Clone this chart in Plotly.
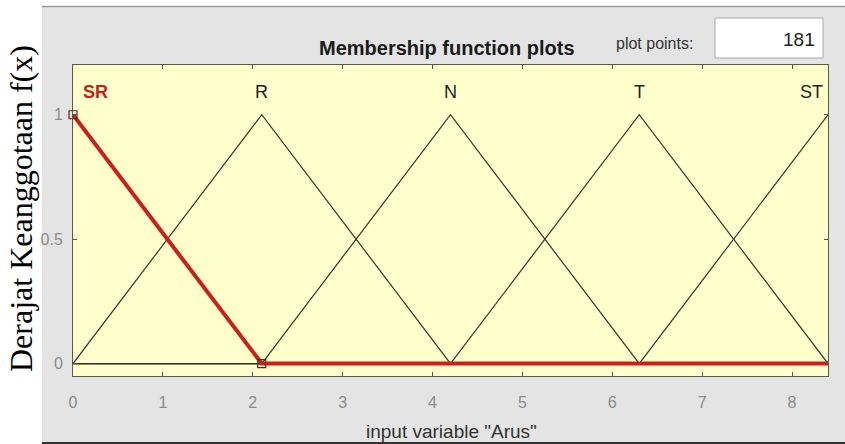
import plotly.graph_objects as go

# Membership functions of input variable "Arus" (triangular, vertices over [0, 8.4])
mf_names = ["SR", "R", "N", "T", "ST"]
sr_x = [0, 2.1, 8.4]
sr_y = [1, 0, 0]
r_x = [0, 2.1, 4.2, 8.4]
r_y = [0, 1, 0, 0]
n_x = [0, 2.1, 4.2, 6.3, 8.4]
n_y = [0, 0, 1, 0, 0]
t_x = [0, 4.2, 6.3, 8.4]
t_y = [0, 0, 1, 0]
st_x = [0, 6.3, 8.4]
st_y = [0, 0, 1]
mf_peaks = [0, 2.1, 4.2, 6.3, 8.4]

x_ticks = [0, 1, 2, 3, 4, 5, 6, 7, 8]
y_ticks = [0, 0.5, 1]
y_tick_text = ["0", "0.5", "1"]
plot_points = 181

W, H = 845, 444
L, R, T, B = 73, 828, 65, 376


def px(xp):
    return (xp - L) / (R - L)


def py(yp):
    return (B - yp) / (B - T)


fig = go.Figure()

black = "#33332a"
for xs, ys in [(r_x, r_y), (n_x, n_y), (t_x, t_y), (st_x, st_y)]:
    fig.add_trace(go.Scatter(x=xs, y=ys, mode="lines",
                             line=dict(color=black, width=1.2),
                             hoverinfo="skip", showlegend=False))

# selected membership function drawn thick in red
fig.add_trace(go.Scatter(x=sr_x, y=sr_y, mode="lines",
                         line=dict(color="#cc1f1a", width=4),
                         hoverinfo="skip", showlegend=False))
fig.add_trace(go.Scatter(x=sr_x[:2], y=sr_y[:2], mode="markers",
                         marker=dict(symbol="square-open", size=8,
                                     color="#5b2418", line=dict(width=1.2)),
                         hoverinfo="skip", showlegend=False, cliponaxis=False))

# membership function labels
label_y = 1.09
for i, name in enumerate(mf_names):
    xa, anchor = mf_peaks[i], "center"
    text = name
    if i == 0:
        xa, anchor, text = 0.09, "left", "<b>%s</b>" % name
    elif i == len(mf_names) - 1:
        xa, anchor = 8.37, "right"
    fig.add_annotation(x=xa, y=label_y, xref="x", yref="y", text=text,
                       showarrow=False, xanchor=anchor, yanchor="middle",
                       font=dict(family="Arial", size=18,
                                 color="#cc1f1a" if i == 0 else "#222222"))

shapes = [
    # figure panel
    dict(type="rect", xref="paper", yref="paper", x0=px(42), x1=px(W), y0=py(442), y1=py(7),
         fillcolor="#e4e4e4", line=dict(width=0), layer="below"),
    # axes background
    dict(type="rect", xref="paper", yref="paper", x0=0, x1=1, y0=0, y1=1,
         fillcolor="#ffffcc", line=dict(width=0), layer="below"),
    dict(type="line", xref="paper", yref="paper", x0=px(42), x1=px(W), y0=py(6.5), y1=py(6.5),
         line=dict(color="#9a9a9a", width=1.5)),
    dict(type="line", xref="paper", yref="paper", x0=px(42), x1=px(W), y0=py(443), y1=py(443),
         line=dict(color="#333333", width=2)),
    # plot points edit box
    dict(type="rect", xref="paper", yref="paper", x0=px(715), x1=px(823), y0=py(58), y1=py(18),
         fillcolor="#ffffff", line=dict(color="#a8a8a8", width=1)),
]


def label(xp, yp, text, size, color, family="Arial", xanchor="center", angle=0):
    fig.add_annotation(x=px(xp), y=py(yp), xref="paper", yref="paper",
                       text=text, showarrow=False, xanchor=xanchor, yanchor="middle",
                       textangle=angle, font=dict(family=family, size=size, color=color))


label(447, 48, "<b>Membership function plots</b>", 20, "#1a1a1a")
label(654, 43, "plot points:", 16, "#333333")
label(817, 40, str(plot_points), 19, "#222222", xanchor="right")
label(451, 431, 'input variable "Arus"', 19, "#333333")
label(21, 209, "Derajat Keanggotaan f(x)", 32, "#000000",
      family="Liberation Serif", angle=-90)

fig.update_layout(
    width=W, height=H,
    margin=dict(l=L, r=W - R, t=T, b=H - B, pad=0),
    paper_bgcolor="#ffffff",
    plot_bgcolor="#ffffcc",
    shapes=shapes,
    showlegend=False,
    xaxis=dict(range=[0, 8.4], tickvals=x_ticks, ticks="inside", ticklen=4,
               tickcolor="#555555", showline=True, linecolor="#5a5a4a", linewidth=1,
               mirror="ticks", showgrid=False, zeroline=False,
               tickfont=dict(family="Arial", size=16, color="#8c8c8c"),
               ticklabelstandoff=12),
    yaxis=dict(range=[-0.05, 1.2], tickvals=y_ticks, ticktext=y_tick_text,
               ticks="inside", ticklen=4, tickcolor="#555555", showline=True,
               linecolor="#5a5a4a", linewidth=1, mirror="ticks", showgrid=False,
               zeroline=False, tickfont=dict(family="Arial", size=16, color="#8c8c8c"),
               ticklabelstandoff=6),
)

fig.write_html("out.html")
